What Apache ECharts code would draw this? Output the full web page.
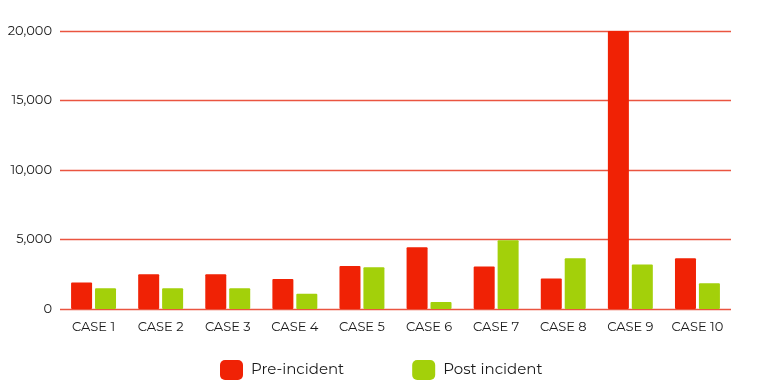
<!DOCTYPE html>
<html><head><meta charset="utf-8">
<script src="https://cdn.jsdelivr.net/npm/echarts@6/dist/echarts.min.js"></script>
<style>html,body{margin:0;padding:0;background:#fff}#c{width:759px;height:392px}</style>
</head><body><div id="c"></div>
<script>
const categories = ['CASE 1','CASE 2','CASE 3','CASE 4','CASE 5','CASE 6','CASE 7','CASE 8','CASE 9','CASE 10'];
const preIncident = [1900, 2500, 2500, 2150, 3100, 4450, 3050, 2200, 20000, 3650];
const postIncident = [1500, 1500, 1500, 1100, 3000, 500, 4950, 3650, 3200, 1850];
const seriesNames = ['Pre-incident', 'Post incident'];
const yTicks = {min: 0, max: 20000, interval: 5000};

const font = 'Montserrat, "Open Sans", Lato, sans-serif';
const chart = echarts.init(document.getElementById('c'));
chart.setOption({
  animation: false,
  grid: {left: 60, right: 28, top: 31, bottom: 83},
  legend: {
    left: 215, top: 355,
    itemWidth: 23, itemHeight: 20, itemGap: 68,
    icon: 'roundRect',
    textStyle: {fontFamily: font, fontSize: 15, color: '#1a1a1a', padding: [0,0,0,3]},
    data: seriesNames
  },
  xAxis: {
    type: 'category', data: categories,
    axisLine: {show: false}, axisTick: {show: false},
    axisLabel: {fontFamily: font, fontSize: 13, color: '#1a1a1a', margin: 12, interval: 0, hideOverlap: false}
  },
  yAxis: {
    type: 'value', min: yTicks.min, max: yTicks.max, interval: yTicks.interval,
    axisLine: {show: false}, axisTick: {show: false},
    axisLabel: {fontFamily: font, fontSize: 13, color: '#1a1a1a', margin: 8,
      formatter: v => v.toLocaleString('en-US')},
    splitLine: {lineStyle: {color: '#ea5540', width: 1.3}}
  },
  series: [
    {name: seriesNames[0], type: 'bar', data: preIncident, barWidth: 21, barGap: '14%',
     itemStyle: {color: '#f02205', borderRadius: 1}},
    {name: seriesNames[1], type: 'bar', data: postIncident, barWidth: 21,
     itemStyle: {color: '#a3d00a', borderRadius: 1}}
  ]
});
</script></body></html>
